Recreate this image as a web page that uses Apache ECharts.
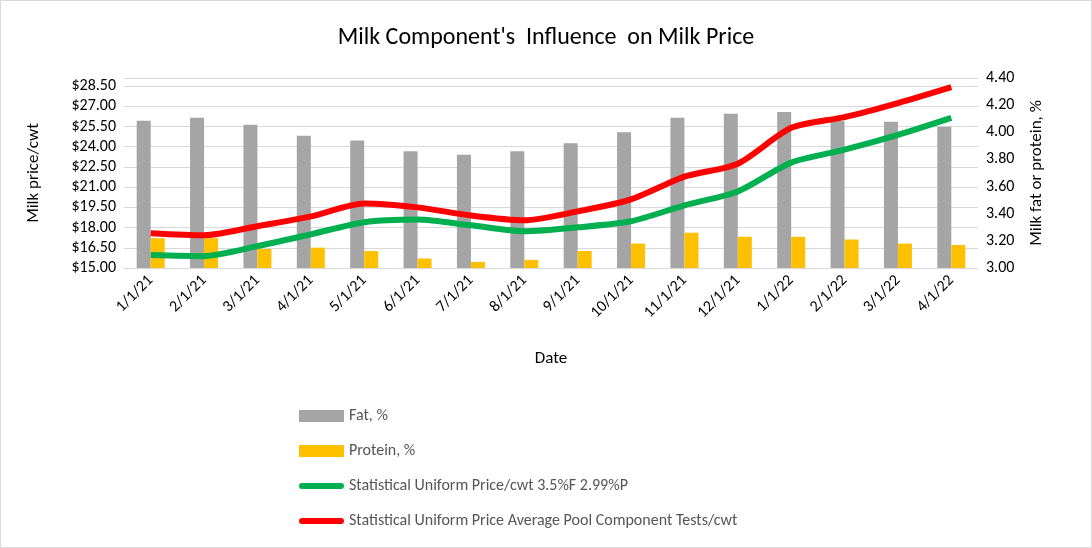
<!DOCTYPE html><html><head><meta charset="utf-8"><script src="https://cdn.jsdelivr.net/npm/echarts@6/dist/echarts.min.js"></script>
<style>html,body{margin:0;background:#fff}#c{width:1090px;height:546px;border:1px solid #d9d9d9}</style></head><body><div id="c"></div><script>
const categories=['1/1/21','2/1/21','3/1/21','4/1/21','5/1/21','6/1/21','7/1/21','8/1/21','9/1/21','10/1/21','11/1/21','12/1/21','1/1/22','2/1/22','3/1/22','4/1/22'];
const fat=[4.085,4.107,4.055,3.975,3.94,3.86,3.835,3.86,3.92,4.0,4.107,4.136,4.15,4.085,4.077,4.04];
const protein=[3.22,3.22,3.14,3.15,3.125,3.07,3.045,3.06,3.125,3.18,3.26,3.23,3.23,3.21,3.18,3.17];
const priceStat=[15.96,15.88,16.62,17.5,18.4,18.6,18.17,17.73,18.02,18.47,19.65,20.68,22.82,23.78,24.88,26.14];
const pricePool=[17.58,17.43,18.1,18.83,19.79,19.5,18.9,18.54,19.2,20.09,21.78,22.74,25.4,26.2,27.24,28.42];
const f="Calibri, Carlito, 'Liberation Sans', sans-serif";
const ch=echarts.init(document.getElementById('c'));
const lineIcon='path://M0,4 L40,4 A3,3 0 0 1 40,10 L0,10 A3,3 0 0 1 0,4 Z';
ch.setOption({
 textStyle:{fontFamily:f,color:'#000'},
 title:{text:"Milk Component's  Influence  on Milk Price",left:'center',top:20,textStyle:{fontSize:24,fontWeight:'normal',color:'#000',fontFamily:f}},
 grid:{left:123,right:113,top:77,bottom:279},
 legend:{orient:'vertical',left:293,top:402,itemGap:19,itemWidth:45,itemHeight:12,textStyle:{fontSize:16,fontFamily:f},
  data:[{name:'Fat, %',icon:'rect'},{name:'Protein, %',icon:'rect'},
   {name:'Statistical Uniform Price/cwt 3.5%F 2.99%P',icon:lineIcon},
   {name:'Statistical Uniform Price Average Pool Component Tests/cwt',icon:lineIcon}]},
 xAxis:{type:'category',data:categories,name:'Date',nameLocation:'middle',nameGap:82,nameTextStyle:{fontSize:17},
  axisLine:{lineStyle:{color:'#d9d9d9'}},axisTick:{show:false},axisLabel:{rotate:45,fontSize:16,color:'#000',margin:10}},
 yAxis:[{type:'value',min:15,max:29.1,interval:1.5,name:'Milk price/cwt',nameLocation:'middle',nameGap:82,nameRotate:90,nameTextStyle:{fontSize:17},
  axisLabel:{fontSize:16,color:'#000',showMaxLabel:false,formatter:v=>'$'+v.toFixed(2)},splitLine:{lineStyle:{color:'#d9d9d9'}}},
  {type:'value',min:3,max:4.4,interval:0.2,name:'Milk fat or protein, %',nameLocation:'middle',nameGap:50,nameRotate:90,nameTextStyle:{fontSize:17},
  axisLabel:{fontSize:16,color:'#000',formatter:v=>v.toFixed(2)},splitLine:{show:false}}],
 series:[
  {name:'Fat, %',type:'bar',yAxisIndex:1,data:fat,itemStyle:{color:'#a5a5a5'},barWidth:14,barGap:'0%'},
  {name:'Protein, %',type:'bar',yAxisIndex:1,data:protein,itemStyle:{color:'#ffc000'},barWidth:14},
  {name:'Statistical Uniform Price/cwt 3.5%F 2.99%P',type:'line',data:priceStat,smooth:0.25,symbol:'none',lineStyle:{width:6,color:'#00b050'},itemStyle:{color:'#00b050'}},
  {name:'Statistical Uniform Price Average Pool Component Tests/cwt',type:'line',data:pricePool,smooth:0.25,symbol:'none',lineStyle:{width:6,color:'#ff0000'},itemStyle:{color:'#ff0000'}}
 ]});
</script></body></html>
